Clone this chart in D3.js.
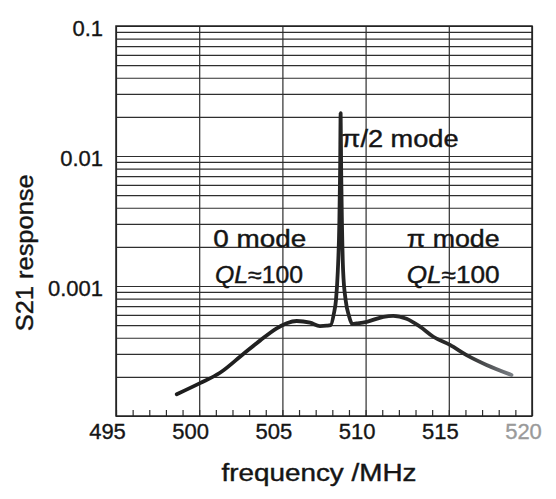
<!DOCTYPE html>
<html>
<head>
<meta charset="utf-8">
<script src="https://cdn.jsdelivr.net/npm/d3@7"></script>
<style>
  html, body { margin: 0; padding: 0; background: #fff; }
  svg { display: block; font-family: "Liberation Sans", Arial, Helvetica, sans-serif; }
</style>
</head>
<body>
<svg id="chart" width="556" height="499"></svg>
<script>
// ---- data ----
const frequencyMHz = [498.65, 500.05, 501.25, 502.65, 503.65, 504.66, 505.26, 505.86, 506.66, 507.26,
  507.66, 507.9, 508.1, 508.22, 508.33, 508.42, 508.47, 508.5, 508.53, 508.58, 508.65, 508.8, 509.0, 509.2,
  509.46, 510.07, 511.07, 511.66, 512.46, 513.27, 514.07, 515.07, 516.07, 517.27, 518.77];
const s21Response = [1.47e-4, 1.79e-4, 2.15e-4, 3.0e-4, 3.8e-4, 4.73e-4, 5.17e-4, 5.38e-4, 5.22e-4, 4.92e-4,
  4.95e-4, 5.0e-4, 6.2e-4, 7.8e-4, 1.3e-3, 3.0e-3, 8.0e-3, 0.0214, 8.0e-3, 3.0e-3, 1.3e-3, 7.8e-4, 5.9e-4, 5.1e-4,
  5.15e-4, 5.3e-4, 5.8e-4, 5.9e-4, 5.6e-4, 4.87e-4, 4.07e-4, 3.52e-4, 2.94e-4, 2.47e-4, 2.07e-4];

const xTickLabels = [495, 500, 505, 510, 515, 520];
const xMinorTicks = d3.range(495, 521, 1);
const yTickLabels = [0.1, 0.01, 0.001];
const yGridValues = [1e-4, 1e-3, 1e-2, 1e-1].flatMap((d, i, a) => i < a.length - 1 ? d3.range(1, 10).map(k => k * d) : [d]);

const annotations = [
  { text: "π/2 mode", f: 508.56, v: 0.0117, width: 117, italic: "" },
  { text: "0 mode", f: 500.85, v: 2.0e-3, width: 93, italic: "" },
  { text: "≈100", f: 500.95, v: 1.05e-3, width: 88, italic: "QL" },
  { text: "π mode", f: 512.47, v: 2.0e-3, width: 93, italic: "" },
  { text: "≈100", f: 512.47, v: 1.05e-3, width: 93, italic: "QL" }
];

// ---- layout ----
const W = 556, H = 499;
const margin = { top: 26, right: 24, bottom: 83, left: 116 };
const iw = W - margin.left - margin.right;
const ih = H - margin.top - margin.bottom;

const svg = d3.select("#chart");
const g = svg.append("g").attr("transform", `translate(${margin.left},${margin.top})`);

const x = d3.scaleLinear().domain([495, 520]).range([0, iw]);
const y = d3.scaleLog().domain([1e-4, 0.1]).range([ih, 0]);

const textInk = "#151515";

// horizontal grid
g.append("g")
  .call(d3.axisLeft(y).tickValues(yGridValues).tickSize(-iw).tickFormat(""))
  .call(a => a.select(".domain").remove())
  .call(a => a.selectAll("line").attr("stroke", "#2e2e2e").attr("stroke-width", 1.2));

// vertical grid
g.append("g")
  .attr("transform", `translate(0,${ih})`)
  .call(d3.axisBottom(x).tickValues(xTickLabels).tickSize(-ih).tickFormat(""))
  .call(a => a.select(".domain").remove())
  .call(a => a.selectAll("line").attr("stroke", "#2e2e2e").attr("stroke-width", 1.2));

// minor ticks at bottom (inward)
g.append("g")
  .attr("transform", `translate(0,${ih})`)
  .call(d3.axisBottom(x).tickValues(xMinorTicks).tickSize(-6).tickFormat(""))
  .call(a => a.select(".domain").remove())
  .call(a => a.selectAll("line").attr("stroke", "#2e2e2e").attr("stroke-width", 1.2));

// frame
g.append("rect").attr("x", 0).attr("y", 0).attr("width", iw).attr("height", ih)
  .attr("fill", "none").attr("stroke", "#222").attr("stroke-width", 1.5);

// x tick labels
g.append("g")
  .attr("transform", `translate(0,${ih})`)
  .call(d3.axisBottom(x).tickValues(xTickLabels).tickSize(0).tickPadding(7).tickFormat(d3.format("d")))
  .call(a => a.select(".domain").remove())
  .call(a => a.selectAll("text")
      .attr("font-size", 22).attr("font-family", "Liberation Sans, Arial, sans-serif")
      .attr("dx", -9)
      .attr("fill", d => d === 520 ? "#9a9a9a" : textInk)
      .attr("stroke", d => d === 520 ? "#9a9a9a" : textInk).attr("stroke-width", 0.35));

// y tick labels
g.append("g")
  .call(d3.axisLeft(y).tickValues(yTickLabels).tickSize(0).tickPadding(13).tickFormat(d => String(d)))
  .call(a => a.select(".domain").remove())
  .call(a => a.selectAll("text")
      .attr("font-size", 22).attr("font-family", "Liberation Sans, Arial, sans-serif")
      .attr("dy", "0.45em")
      .attr("fill", textInk).attr("stroke", textInk).attr("stroke-width", 0.35));

// curve
const line = d3.line()
  .x((d, i) => x(frequencyMHz[i]))
  .y(d => y(d))
  .curve(d3.curveMonotoneX);

const grad = svg.append("defs").append("linearGradient")
  .attr("id", "fade").attr("gradientUnits", "userSpaceOnUse")
  .attr("x1", x(495)).attr("x2", x(520)).attr("y1", 0).attr("y2", 0);
grad.append("stop").attr("offset", "0%").attr("stop-color", "#1a1a1a");
grad.append("stop").attr("offset", `${(516 - 495) / 25 * 100}%`).attr("stop-color", "#2a2a2a");
grad.append("stop").attr("offset", `${(518.8 - 495) / 25 * 100}%`).attr("stop-color", "#7a7f85");

g.append("path")
  .datum(s21Response)
  .attr("d", line)
  .attr("fill", "none")
  .attr("stroke", "url(#fade)")
  .attr("stroke-width", 3.8)
  .attr("stroke-linejoin", "round")
  .attr("stroke-linecap", "round");

// annotations
annotations.forEach(a => {
  const t = g.append("text")
    .attr("x", x(a.f)).attr("y", y(a.v))
    .attr("font-size", 23)
    .attr("fill", textInk)
    .attr("stroke", textInk).attr("stroke-width", 0.4)
    .attr("textLength", a.width)
    .attr("lengthAdjust", "spacingAndGlyphs");
  if (a.italic) t.append("tspan").attr("font-style", "italic").text(a.italic);
  t.append("tspan").text(a.text);
});

// axis titles
svg.append("text")
  .attr("x", margin.left + x(507.2)).attr("y", 481)
  .attr("text-anchor", "middle")
  .attr("font-size", 23)
  .attr("fill", textInk).attr("stroke", textInk).attr("stroke-width", 0.4)
  .attr("textLength", 195)
  .attr("lengthAdjust", "spacingAndGlyphs")
  .text("frequency /MHz");

svg.append("text")
  .attr("transform", `translate(33,${margin.top + y(0.0018)}) rotate(-90)`)
  .attr("text-anchor", "middle")
  .attr("font-size", 23)
  .attr("fill", textInk).attr("stroke", textInk).attr("stroke-width", 0.4)
  .attr("textLength", 157)
  .attr("lengthAdjust", "spacingAndGlyphs")
  .text("S21 response");
</script>
</body>
</html>
